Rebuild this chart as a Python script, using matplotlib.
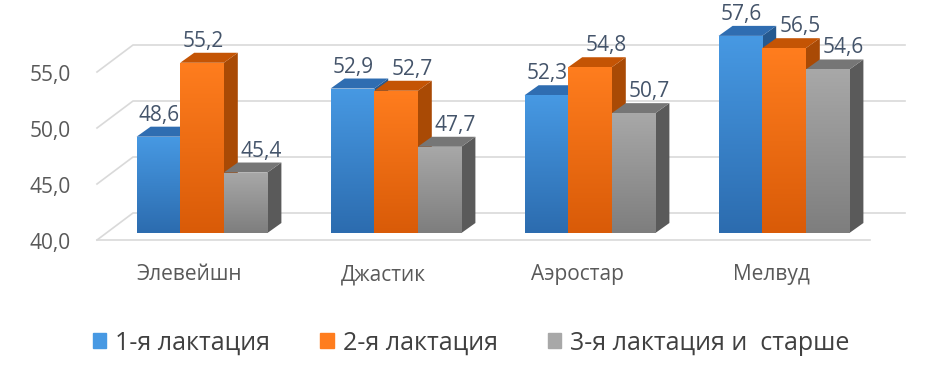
import numpy as np
import matplotlib.pyplot as plt
from matplotlib.patches import Polygon, Patch
from matplotlib.colors import LinearSegmentedColormap

# данные
categories = ['Элевейшн', 'Джастик', 'Аэростар', 'Мелвуд']
series = ['1-я лактация', '2-я лактация', '3-я лактация и  старше']
lact1 = [48.6, 52.9, 52.3, 57.6]
lact2 = [55.2, 52.7, 54.8, 56.5]
lact3 = [45.4, 47.7, 50.7, 54.6]
yticks = [40, 45, 50, 55]

# цвета: верх/низ передней грани, боковая грань, верхняя грань
front_top = ['#4799E3', '#FF7D1E', '#A8A8A8']
front_bot = ['#2C6CAF', '#D95B08', '#7E7E7E']
side_col = ['#25598F', '#A94A05', '#5A5A5A']
top_col = ['#2F6DB1', '#C45404', '#767676']

plt.rcParams['font.family'] = ['Open Sans', 'DejaVu Sans']

W, H = 931, 367
px_x = 194.0   # пикселей на категорию
px_y = 11.2    # пикселей на единицу шкалы
base = 40

fig = plt.figure(figsize=(W / 100, H / 100), dpi=100)
ax = fig.add_axes([0, 0, 1, 1])
ax.axis('off')


def gx(p):
    return (p - 202) / px_x


# "стенка" с сеткой
for v in yticks:
    ax.plot([gx(97), gx(133), gx(905)], [v - 7 / px_y, v + 20 / px_y, v + 20 / px_y],
            color='#D9D9D9', lw=1.2, zorder=1)
    ax.text(gx(71), v - 10 / px_y, f'{v:.1f}'.replace('.', ','), ha='right', va='center',
            fontsize=15, color='#595959')
ax.plot([gx(97), gx(870)], [base - 7 / px_y] * 2, color='#D9D9D9', lw=1.2, zorder=1)

# столбцы
bw = 43.6 / px_x
ddx = 14 / px_x
ddy = 10 / px_y
x = np.arange(len(categories))
data = [lact1, lact2, lact3]
grad = np.linspace(0, 1, 100).reshape(-1, 1)

for j, vals in enumerate(data):
    cmap = LinearSegmentedColormap.from_list('g', [front_bot[j], front_top[j]])
    z = 3 + j * 3
    for i, v in enumerate(vals):
        l = x[i] + (j - 1.5) * bw
        r = l + bw
        ax.add_patch(Polygon([(r, base), (r + ddx, base + ddy), (r + ddx, v + ddy), (r, v)],
                             closed=True, fc=side_col[j], ec='none', zorder=z))
        ax.add_patch(Polygon([(l, v), (r, v), (r + ddx, v + ddy), (l + ddx, v + ddy)],
                             closed=True, fc=top_col[j], ec='none', zorder=z + 1))
        bar = ax.bar(l, v - base, bottom=base, width=bw, align='edge',
                     color=front_top[j], zorder=z + 2)[0]
        im = ax.imshow(grad, extent=(l, r, base, v), origin='lower', cmap=cmap,
                       aspect='auto', zorder=z + 2.5)
        im.set_clip_path(bar)
        # подпись сдвигается вправо, если рядом высокий соседний столбец
        shift = 1
        if j > 0 and v - data[j - 1][i] < 5:
            shift = 16
        ax.text(l + bw / 2 + shift / px_x, v + ddy + 1 / px_y, f'{v:.1f}'.replace('.', ','),
                ha='center', va='bottom', fontsize=15, color='#44546A', zorder=20)

for i, c in enumerate(categories):
    ax.text(x[i] - 13 / px_x, base - 42 / px_y, c, ha='center', va='center',
            fontsize=15, color='#595959')

ax.set_xlim(-202 / px_x, (W - 202) / px_x)
ax.set_ylim(base - (H - 233) / px_y, base + 233 / px_y)

handles = [Patch(color=front_top[j]) for j in range(3)]
ax.legend(handles, series, loc='center', bbox_to_anchor=(0.506, 0.065), ncol=3,
          frameon=False, fontsize=18, handlelength=0.55, handleheight=0.55,
          handletextpad=0.35, columnspacing=2.0, labelcolor='#404040')

plt.savefig('out.png', dpi=100)
